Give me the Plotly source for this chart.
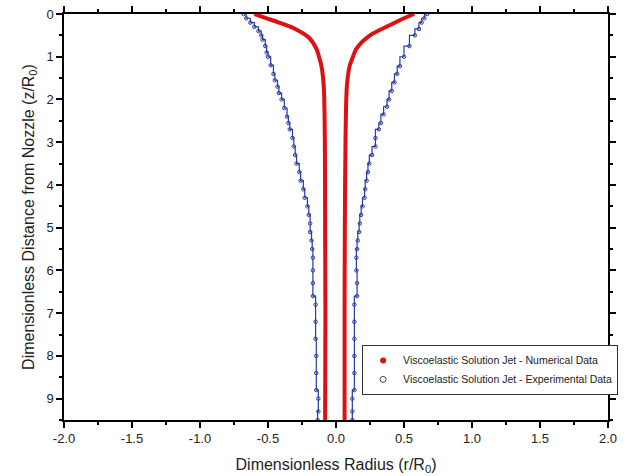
import plotly.graph_objects as go

# Numerical data (red), left and right edges of the jet
num_left_z = [0.0, 0.1, 0.2, 0.35, 0.55, 0.82, 1.0, 1.22, 1.69, 2.94, 5.0, 7.0, 9.5]
num_left_r = [-0.60, -0.51, -0.42, -0.30, -0.20, -0.143, -0.125, -0.107, -0.09, -0.082, -0.08, -0.078, -0.08]
num_right_z = [0.0, 0.1, 0.27, 0.51, 0.82, 1.0, 1.22, 1.69, 2.94, 5.0, 7.0, 9.5]
num_right_r = [0.575, 0.50, 0.39, 0.245, 0.148, 0.125, 0.10, 0.08, 0.07, 0.065, 0.063, 0.063]

# Experimental data (blue)
exp_left_z = [0.0, 0.1, 0.2, 0.3, 0.4, 0.5, 0.6, 0.75, 0.9, 1.0, 1.2, 1.4, 1.55, 1.7, 1.85, 2.0,
              2.2, 2.4, 2.55, 2.7, 2.9, 3.1, 3.3, 3.5, 3.7, 3.9, 4.1, 4.3, 4.5, 4.7, 4.9, 5.1,
              5.3, 5.5, 5.7, 6.0, 6.3, 6.6, 6.8, 7.2, 7.6, 8.0, 8.4, 8.8, 9.0, 9.3, 9.5]
exp_left_r = [-0.68, -0.66, -0.63, -0.60, -0.57, -0.55, -0.54, -0.52, -0.51, -0.50, -0.48, -0.46,
              -0.45, -0.43, -0.42, -0.40, -0.38, -0.36, -0.35, -0.34, -0.32, -0.31, -0.30, -0.29,
              -0.27, -0.26, -0.24, -0.23, -0.21, -0.20, -0.19, -0.19, -0.18, -0.175, -0.17, -0.17,
              -0.17, -0.17, -0.15, -0.15, -0.15, -0.145, -0.145, -0.145, -0.13, -0.13, -0.135]
exp_right_z = [0.0, 0.1, 0.2, 0.35, 0.5, 0.75, 1.0, 1.22, 1.4, 1.6, 1.8, 2.0, 2.17, 2.35, 2.55,
               2.7, 2.9, 3.1, 3.3, 3.5, 3.7, 3.9, 4.1, 4.3, 4.5, 4.7, 4.9, 5.1, 5.3, 5.5, 5.7,
               6.0, 6.3, 6.6, 6.8, 7.2, 7.6, 8.0, 8.4, 8.8, 9.0, 9.3, 9.5]
exp_right_r = [0.67, 0.65, 0.63, 0.61, 0.58, 0.54, 0.50, 0.47, 0.45, 0.43, 0.41, 0.39, 0.375,
               0.35, 0.33, 0.315, 0.29, 0.29, 0.265, 0.245, 0.235, 0.225, 0.215, 0.21, 0.195,
               0.185, 0.175, 0.17, 0.16, 0.155, 0.15, 0.15, 0.155, 0.155, 0.135, 0.135, 0.135,
               0.135, 0.135, 0.135, 0.12, 0.12, 0.12]

x_ticks = [-2.0, -1.5, -1.0, -0.5, 0.0, 0.5, 1.0, 1.5, 2.0]
y_ticks = [0, 1, 2, 3, 4, 5, 6, 7, 8, 9]

RED = "#dd1111"
BLUE = "#2a3aa8"
FONT = "Liberation Sans, Arial"

fig = go.Figure()
for zs, rs in [(exp_left_z, exp_left_r), (exp_right_z, exp_right_r)]:
    fig.add_trace(go.Scatter(x=rs, y=zs, mode="lines+markers", showlegend=False,
                             line=dict(color=BLUE, width=1.2, shape="hv"),
                             marker=dict(symbol="circle-open", size=3.5, color=BLUE,
                                         line=dict(width=1))))
for zs, rs in [(num_left_z, num_left_r), (num_right_z, num_right_r)]:
    fig.add_trace(go.Scatter(x=rs, y=zs, mode="lines", showlegend=False,
                             line=dict(color=RED, width=4, shape="spline", smoothing=0.8)))

# legend entries
fig.add_trace(go.Scatter(x=[None], y=[None], mode="markers",
                         name="Viscoelastic Solution Jet - Numerical Data",
                         marker=dict(symbol="circle", size=6, color=RED)))
fig.add_trace(go.Scatter(x=[None], y=[None], mode="markers",
                         name="Viscoelastic Solution Jet - Experimental Data",
                         marker=dict(symbol="circle-open", size=6, color="#444444",
                                     line=dict(width=1))))

axis_common = dict(showline=True, linecolor="black", linewidth=1.5, mirror="ticks",
                   ticks="outside", ticklen=6, tickcolor="black", tickwidth=1.5,
                   showgrid=False, zeroline=False, automargin=False,
                   tickfont=dict(family=FONT, size=13, color="#222"))

fig.update_xaxes(range=[-2.0, 2.0], tickvals=x_ticks, ticktext=[f"{v:.1f}" for v in x_ticks],
                 minor=dict(dtick=0.25, ticks="outside", ticklen=3, tickcolor="black"),
                 title=dict(text="Dimensionless Radius (r/R<sub>0</sub>)", standoff=13,
                            font=dict(family=FONT, size=16, color="#222")),
                 **axis_common)
fig.update_yaxes(range=[9.5, 0], tickvals=y_ticks,
                 minor=dict(dtick=0.5, ticks="outside", ticklen=3, tickcolor="black"),
                 title=dict(text="Dimensionless Distance from Nozzle (z/R<sub>0</sub>)", standoff=8,
                            font=dict(family=FONT, size=16, color="#222")),
                 **axis_common)

fig.update_layout(
    width=630, height=476,
    margin=dict(l=64, r=17, t=14, b=56),
    paper_bgcolor="white", plot_bgcolor="white",
    legend=dict(x=0.548, y=0.185, xanchor="left", yanchor="top",
                bordercolor="#333", borderwidth=1, bgcolor="white",
                font=dict(family=FONT, size=10.5, color="#222"),
                tracegroupgap=2),
)

fig.write_html("out.html")
